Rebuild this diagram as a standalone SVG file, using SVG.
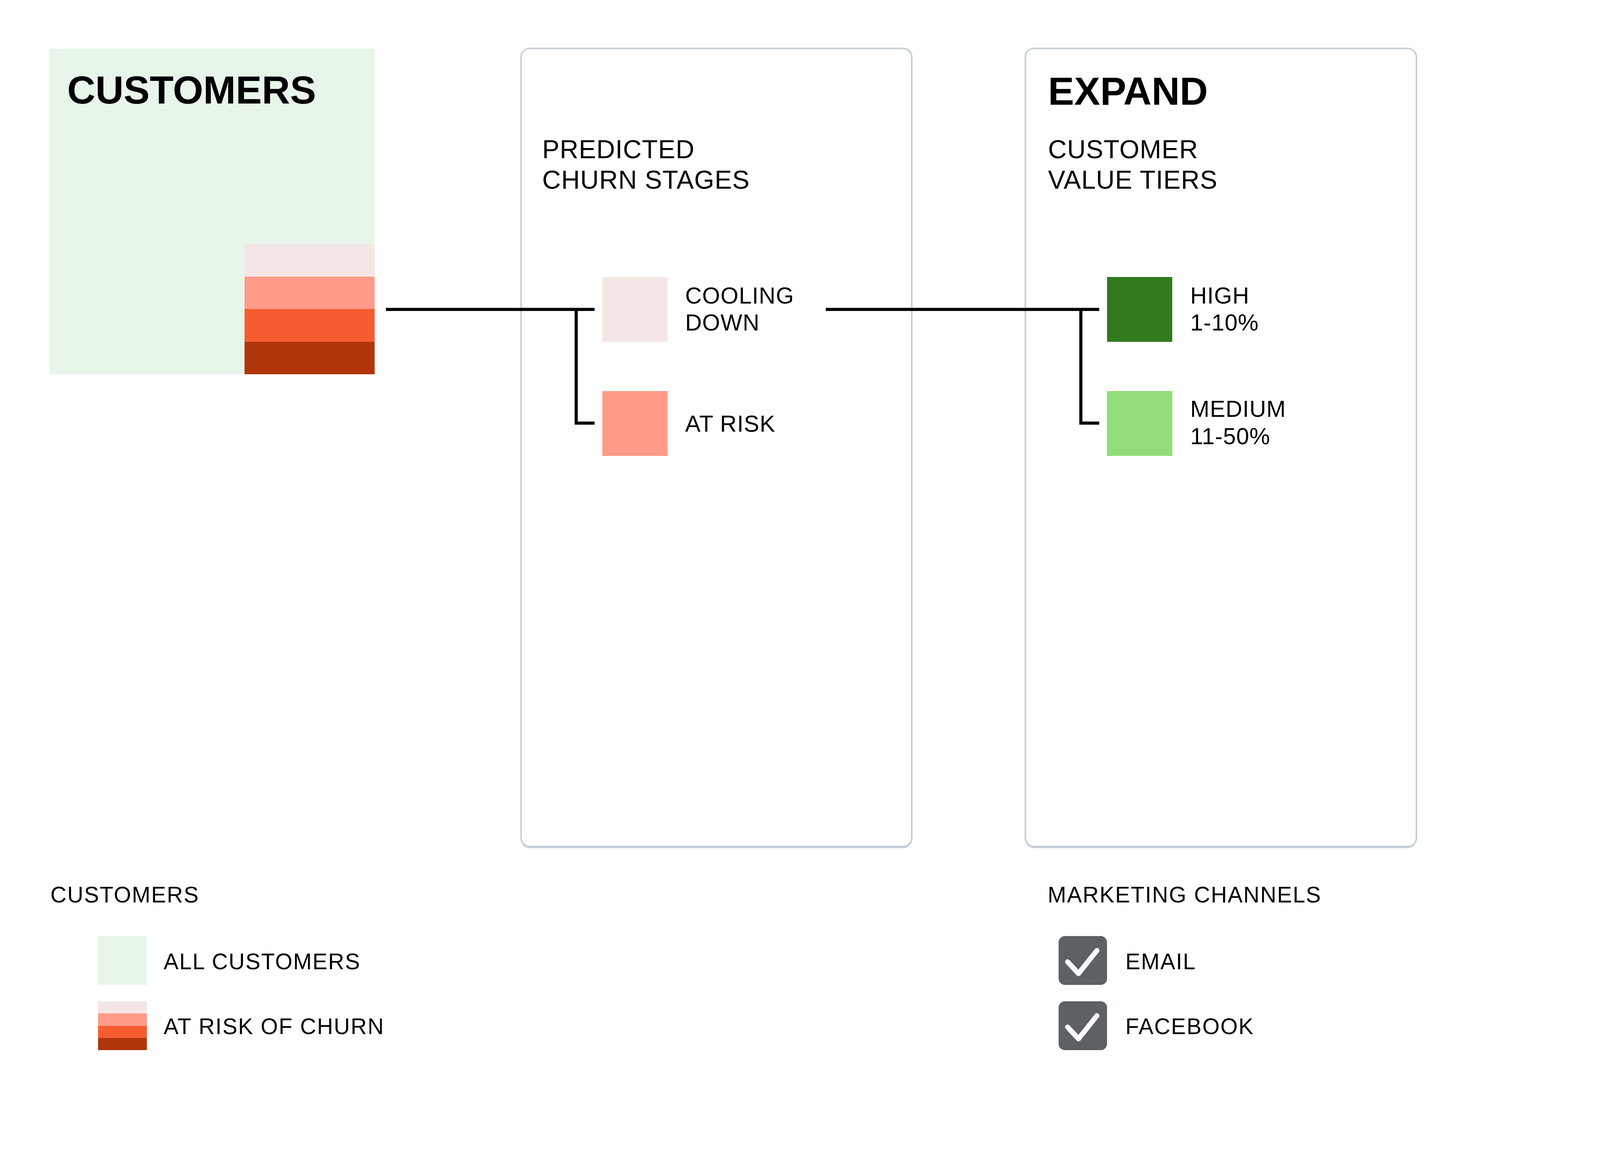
<svg xmlns="http://www.w3.org/2000/svg" width="5043" height="2959" viewBox="0 0 5043 2959">
<style>
.title{font-family:"Liberation Sans",Arial,sans-serif;font-weight:bold;font-size:100px;fill:#000}
.sub{font-family:"Liberation Sans",Arial,sans-serif;font-size:66px;fill:#000;letter-spacing:1px}
.lbl{font-family:"Liberation Sans",Arial,sans-serif;font-size:59px;fill:#000;letter-spacing:1px}
.leg{font-family:"Liberation Sans",Arial,sans-serif;font-size:57px;fill:#000;letter-spacing:2px}
.panel{fill:#fff;stroke:#C5CED7;stroke-width:4}
.shadow{fill:#C5CED7}
.conn{fill:none;stroke:#000;stroke-width:8}
.check{fill:none;stroke:#fff;stroke-width:13;stroke-linecap:round;stroke-linejoin:round}
</style>
<rect width="5043" height="2959" fill="#fff"/>
<g id="customers">
<rect x="126" y="125" width="833" height="833" fill="#E8F6E9"/>
<rect x="626" y="624" width="333" height="84" fill="#F5E6E6"/>
<rect x="626" y="708" width="333" height="84" fill="#FF9B88"/>
<rect x="626" y="791" width="333" height="84" fill="#F75C30"/>
<rect x="626" y="875" width="333" height="83" fill="#B0360A"/>
<text class="title" x="172" y="265">CUSTOMERS</text>
</g>
<g id="panel-churn">
<rect class="shadow" x="1334" y="128" width="1000" height="2043" rx="22"/>
<rect class="panel" x="1334" y="124" width="1000" height="2043" rx="22"/>
<text class="sub" x="1388" y="405">PREDICTED</text>
<text class="sub" x="1388" y="483">CHURN STAGES</text>
</g>
<g id="cooling-down">
<rect x="1542" y="709" width="167" height="166" fill="#F5E6E6"/>
<text class="lbl" x="1754" y="777">COOLING</text>
<text class="lbl" x="1754" y="846">DOWN</text>
</g>
<g id="at-risk">
<rect x="1542" y="1001" width="167" height="166" fill="#FF9B88"/>
<text class="lbl" x="1754" y="1105">AT RISK</text>
</g>
<g id="panel-expand">
<rect class="shadow" x="2625" y="128" width="1001" height="2043" rx="22"/>
<rect class="panel" x="2625" y="124" width="1001" height="2043" rx="22"/>
<text class="title" x="2683" y="268">EXPAND</text>
<text class="sub" x="2683" y="405">CUSTOMER</text>
<text class="sub" x="2683" y="483">VALUE TIERS</text>
</g>
<g id="high">
<rect x="2834" y="709" width="167" height="166" fill="#317A1E"/>
<text class="lbl" x="3047" y="777">HIGH</text>
<text class="lbl" x="3047" y="846">1-10%</text>
</g>
<g id="medium">
<rect x="2834" y="1001" width="167" height="166" fill="#90DD7A"/>
<text class="lbl" x="3047" y="1067">MEDIUM</text>
<text class="lbl" x="3047" y="1137">11-50%</text>
</g>
<g id="connectors">
<path class="conn" d="M988 792 H1522"/>
<path class="conn" d="M1475 792 V1083 H1522"/>
<path class="conn" d="M2114 792 H2814"/>
<path class="conn" d="M2767 792 V1083 H2814"/>
</g>
<g id="legend-customers">
<text class="leg" x="129" y="2310">CUSTOMERS</text>
<rect x="251" y="2396" width="125" height="125" fill="#E8F6E9"/>
<text class="leg" x="419" y="2481">ALL CUSTOMERS</text>
<rect x="251" y="2563" width="125" height="31" fill="#F5E6E6"/>
<rect x="251" y="2594" width="125" height="32" fill="#FF9B88"/>
<rect x="251" y="2626" width="125" height="31" fill="#F75C30"/>
<rect x="251" y="2657" width="125" height="31" fill="#B0360A"/>
<text class="leg" x="419" y="2647">AT RISK OF CHURN</text>
</g>
<g id="legend-channels">
<text class="leg" x="2682" y="2310">MARKETING CHANNELS</text>
<rect x="2710" y="2396" width="124" height="125" rx="16" fill="#5D6166"/>
<path class="check" d="M2733 2462 L2761 2492 L2808 2433"/>
<text class="leg" x="2881" y="2481">EMAIL</text>
<rect x="2710" y="2563" width="124" height="125" rx="16" fill="#5D6166"/>
<path class="check" d="M2733 2629 L2761 2659 L2808 2600"/>
<text class="leg" x="2881" y="2647">FACEBOOK</text>
</g>
</svg>
